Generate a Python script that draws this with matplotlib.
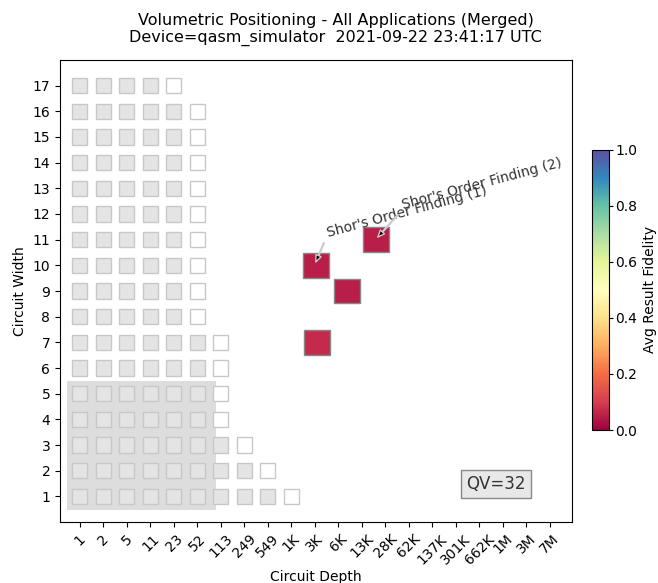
import numpy as np
import matplotlib
matplotlib.use('Agg')
import matplotlib.pyplot as plt
from matplotlib.patches import Rectangle

depth_labels = ['1', '2', '5', '11', '23', '52', '113', '249', '549', '1K', '3K', '6K',
                '13K', '28K', '62K', '137K', '301K', '662K', '1M', '3M', '7M']
widths = list(range(1, 18))
# number of filled gray cells per width row (the next cell is the open boundary cell)
gray_counts = [9, 8, 7, 6, 6, 6, 6, 5, 5, 5, 5, 5, 5, 5, 5, 5, 4]

# application results (x in depth-tick index units)
app_depth_pos = [10.04, 10.08, 11.36, 12.6]
app_width = [10, 7, 9, 11]
app_fidelity = [0.05, 0.07, 0.05, 0.05]

qv = 32
qv_width = 5
qv_depth_pos = 5.79

# label, arrow head (x, y), text anchor (x, y)
annos = [("Shor's Order Finding (1)", (10.04, 10.13), (10.44, 11.1)),
         ("Shor's Order Finding (2)", (12.68, 11.1), (13.65, 12.2))]


def main():
    fig = plt.figure(figsize=(6.58, 5.83), dpi=100)
    ax = fig.add_axes([0.0912, 0.1046, 0.7778, 0.7925])
    cmap = plt.get_cmap('Spectral')

    ax.set_xlim(-0.85, 20.94)
    ax.set_ylim(0, 18)

    # QV region
    ax.add_patch(Rectangle((-0.55, 0.45), qv_depth_pos + 0.55, qv_width + 0.05,
                           facecolor='#dddddd', edgecolor='none', zorder=1))

    w, h = 0.64, 0.6
    for wi, n in zip(widths, gray_counts):
        for d in range(n):
            ax.add_patch(Rectangle((d - w / 2, wi - h / 2), w, h, facecolor='#e4e4e4',
                                   edgecolor='#c8c8c8', lw=1, zorder=2))
        ax.add_patch(Rectangle((n - w / 2, wi - h / 2), w, h, facecolor='white',
                               edgecolor='#c8c8c8', lw=1, zorder=2))

    W, H = 1.1, 0.97
    for x, y, f in zip(app_depth_pos, app_width, app_fidelity):
        ax.add_patch(Rectangle((x - W / 2, y - H / 2), W, H, facecolor=cmap(f),
                               edgecolor='#888888', lw=1, zorder=3))

    for label, head, txt in annos:
        ax.annotate(label, xy=head, xytext=txt,
                    rotation=15, ha='left', va='baseline', color=(0.2, 0.2, 0.2),
                    fontsize=10, zorder=5,
                    arrowprops=dict(facecolor='black', shrink=0.0, width=0.5,
                                    headwidth=4, headlength=5, edgecolor=(0.8, 0.8, 0.8)))

    ax.text(0.910, 0.063, 'QV=' + str(qv), transform=ax.transAxes, ha='right', va='bottom',
            fontsize=12, color=(0.2, 0.2, 0.2),
            bbox=dict(facecolor='#e8e8e8', edgecolor='#888888', boxstyle='square,pad=0.3'))

    ax.set_xticks(range(len(depth_labels)))
    ax.set_xticklabels(depth_labels, rotation=45, ha='center')
    ax.set_yticks(widths)
    ax.set_xlabel('Circuit Depth', labelpad=2)
    ax.set_ylabel('Circuit Width')

    fig.suptitle('Volumetric Positioning - All Applications (Merged)\n'
                 'Device=qasm_simulator  2021-09-22 23:41:17 UTC', x=0.51, y=0.978, fontsize=11.5)

    cax = fig.add_axes([0.899, 0.2624, 0.026, 0.4806])
    sm = plt.cm.ScalarMappable(cmap=cmap, norm=plt.Normalize(0, 1))
    cb = fig.colorbar(sm, cax=cax)
    cb.set_ticks([0, 0.2, 0.4, 0.6, 0.8, 1.0])
    cax.tick_params(length=3, pad=2)
    cb.set_label('Avg Result Fidelity', labelpad=4)

    fig.savefig('out.png', dpi=100)


if __name__ == '__main__':
    main()
